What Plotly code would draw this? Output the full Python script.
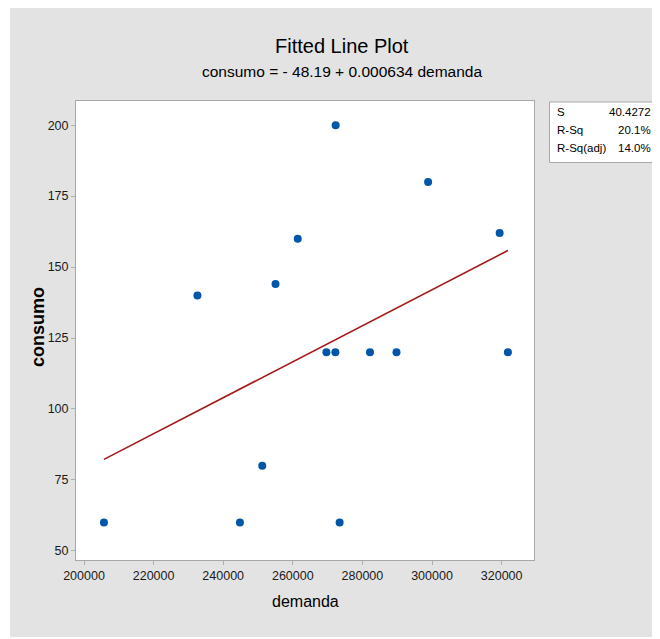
import plotly.graph_objects as go

# ---- data ----
demanda = [205730, 232590, 244800, 251220, 255030, 261420, 272310, 269650,
           272230, 282170, 289790, 321800, 273450, 298880, 319430]
consumo = [60, 140, 60, 80, 144, 160, 200, 120,
           120, 120, 120, 120, 60, 180, 162]

intercept = -48.19
slope = 0.000634

stat_labels = ["S", "R-Sq", "R-Sq(adj)"]
stat_values = ["40.4272", "20.1%", "14.0%"]

x_ticks = [200000, 220000, 240000, 260000, 280000, 300000, 320000]
y_ticks = [50, 75, 100, 125, 150, 175, 200]

title_text = "Fitted Line Plot"
subtitle_text = "consumo = - 48.19 + 0.000634 demanda"
x_title = "demanda"
y_title = "consumo"

FONT = "Liberation Sans, Arial, sans-serif"
BG = "#E3E3E3"
TXT = "#000000"

fit_x = [min(demanda), max(demanda)]
fit_y = [intercept + slope * v for v in fit_x]

fig = go.Figure()
fig.add_trace(go.Scatter(x=fit_x, y=fit_y, mode="lines",
                         line=dict(color="#A31A1A", width=1.6),
                         hoverinfo="skip", showlegend=False))
fig.add_trace(go.Scatter(x=demanda, y=consumo, mode="markers",
                         marker=dict(color="#0056A8", size=8, symbol="circle"),
                         showlegend=False))

OFF = 8  # page body margin
W, H = 652, 629
# plot area in page pixels: x 76..534, y 101..560
L, T = 76 - OFF, 101 - OFF
R = W - (534 - OFF)
B = H - (560 - OFF)
pw, ph = W - L - R, H - T - B

def px(xp):  # page x pixel -> paper
    return (xp - OFF - L) / pw

def py(yp):  # page y pixel -> paper
    return (H - B - (yp - OFF)) / ph

def ann(text, x, y, size, xanchor="center", angle=0):
    return dict(text=text, x=px(x), y=py(y), xref="paper", yref="paper",
                showarrow=False, xanchor=xanchor, yanchor="middle",
                textangle=angle, font=dict(family=FONT, size=size, color=TXT))

annotations = [
    ann(title_text, 342, 46, 20),
    ann(subtitle_text, 342, 72, 15.5),
    ann(x_title, 305, 601, 16),
    ann("<b>" + y_title + "</b>", 38, 327, 18, angle=-90),
]
row_y = [112, 130, 148]
for lab, val, ry in zip(stat_labels, stat_values, row_y):
    annotations.append(ann(lab, 555, ry, 11.5, xanchor="left"))
    annotations.append(ann(val, 653, ry, 11.5, xanchor="right"))

shapes = [
    # thin white strip at the left edge of the picture
    dict(type="rect", xref="paper", yref="paper", x0=px(0), x1=px(10), y0=py(700), y1=py(0),
         fillcolor="white", line=dict(width=0), layer="above"),
    # stats box
    dict(type="rect", xref="paper", yref="paper", x0=px(549.5), x1=px(654), y0=py(162.5), y1=py(102),
         fillcolor="white", line=dict(color="#A8A8A8", width=1), layer="above"),
]

fig.update_layout(
    width=W, height=H,
    margin=dict(l=L, r=R, t=T, b=B, pad=0),
    paper_bgcolor=BG, plot_bgcolor="white",
    showlegend=False,
    annotations=annotations, shapes=shapes,
    font=dict(family=FONT, size=12.5, color=TXT),
)
fig.update_xaxes(range=[197700, 329300], tickvals=x_ticks,
                 ticktext=[str(v) for v in x_ticks],
                 showgrid=False, zeroline=False,
                 showline=True, mirror=True, linecolor="#A8A8A8", linewidth=1,
                 ticks="outside", ticklen=4, tickcolor="#B0B0B0",
                 tickfont=dict(family=FONT, size=12.5, color="#1A1A1A"))
fig.update_yaxes(range=[46.8, 208.5], tickvals=y_ticks,
                 showgrid=False, zeroline=False,
                 showline=True, mirror=True, linecolor="#A8A8A8", linewidth=1,
                 ticks="outside", ticklen=4, tickcolor="#B0B0B0",
                 tickfont=dict(family=FONT, size=12.5, color="#1A1A1A"))

fig.write_html("out.html")
